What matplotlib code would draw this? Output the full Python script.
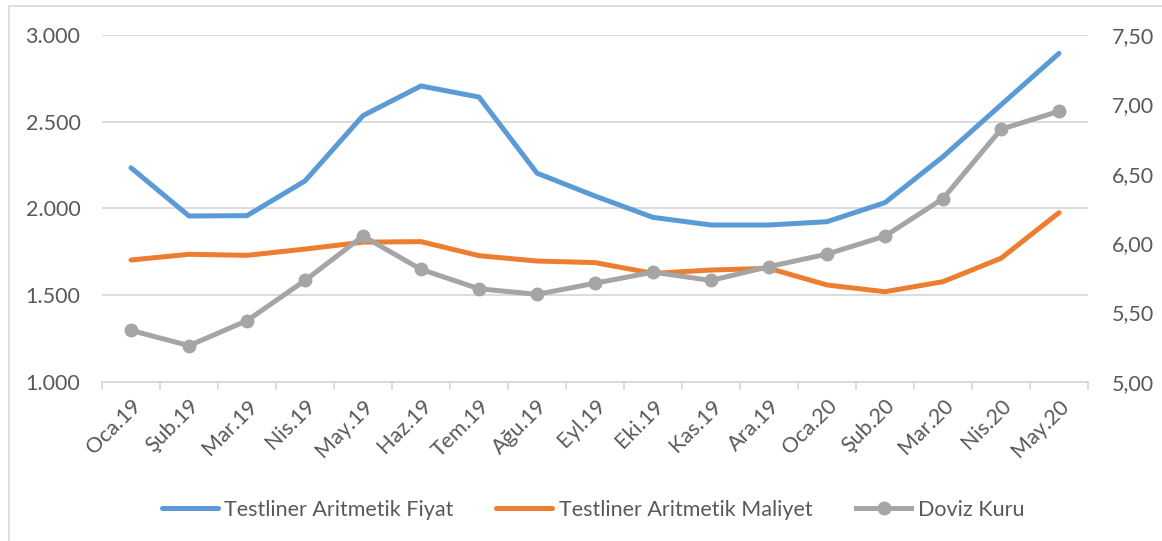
import matplotlib
matplotlib.use("Agg")
import matplotlib.pyplot as plt
from matplotlib.patches import Rectangle

plt.rcParams['font.family'] = ['Lato', 'DejaVu Sans']

months = ["Oca.19", "Şub.19", "Mar.19", "Nis.19", "May.19", "Haz.19", "Tem.19",
          "Ağu.19", "Eyl.19", "Eki.19", "Kas.19", "Ara.19", "Oca.20", "Şub.20",
          "Mar.20", "Nis.20", "May.20"]
fiyat = [2234, 1956, 1958, 2158, 2535, 2706, 2642, 2203, 2071, 1948, 1904,
         1904, 1923, 2033, 2298, 2597, 2894]
maliyet = [1702, 1735, 1729, 1765, 1805, 1808, 1727, 1696, 1687, 1625, 1644,
           1654, 1558, 1519, 1577, 1712, 1975]
doviz = [5.37, 5.26, 5.44, 5.73, 6.05, 5.81, 5.67, 5.63, 5.71, 5.79, 5.73,
         5.83, 5.92, 6.05, 6.32, 6.82, 6.95]

left_ticks = [1000, 1500, 2000, 2500, 3000]
left_labels = ["1.000", "1.500", "2.000", "2.500", "3.000"]
right_ticks = [5.0, 5.5, 6.0, 6.5, 7.0, 7.5]
right_labels = ["5,00", "5,50", "6,00", "6,50", "7,00", "7,50"]

BLUE = "#5B9BD5"
ORANGE = "#ED7D31"
GRAY = "#A5A5A5"
TXT = "#595959"
GRID = "#D9D9D9"
FS = 15.5

W, H = 1162, 541
fig = plt.figure(figsize=(W / 100, H / 100), dpi=100)
fig.patch.set_facecolor("white")

# chart frame (partially cropped)
fig.add_artist(Rectangle((9 / W, -0.05), 1.2, (1 - 6 / H) + 0.05,
                         transform=fig.transFigure, fill=False,
                         edgecolor="#D9D9D9", linewidth=1.2))

ax = fig.add_axes([102 / W, 1 - 381.7 / H, (1088 - 102) / W, (381.7 - 35) / H])
ax2 = ax.twinx()

x = list(range(len(months)))
l1, = ax.plot(x, fiyat, color=BLUE, lw=3.6, solid_capstyle="round",
              solid_joinstyle="round", label="Testliner Aritmetik Fiyat", zorder=3)
l2, = ax.plot(x, maliyet, color=ORANGE, lw=3.6, solid_capstyle="round",
              solid_joinstyle="round", label="Testliner Aritmetik Maliyet", zorder=3)
l3, = ax2.plot(x, doviz, color=GRAY, lw=3.6, marker="o", markersize=9,
               solid_joinstyle="round", label="Doviz Kuru", zorder=3)

ax.set_xlim(-0.5, len(months) - 0.5)
ax.set_ylim(1000, 3000)
ax2.set_ylim(5.0, 7.5)

ax.set_yticks(left_ticks)
ax.set_yticklabels(left_labels)
ax2.set_yticks(right_ticks)
ax2.set_yticklabels(right_labels)

ax.yaxis.grid(True, color=GRID, lw=1.3)
ax.set_axisbelow(True)

for a in (ax, ax2):
    for s in a.spines.values():
        s.set_visible(False)
ax.spines["bottom"].set_visible(True)
ax.spines["bottom"].set_color(GRID)
ax.spines["bottom"].set_linewidth(1.3)

ax.tick_params(axis="y", length=0, labelsize=FS, labelcolor=TXT, pad=15.5)
ax2.tick_params(axis="y", length=0, labelsize=FS, labelcolor=TXT, pad=17)

# category ticks at boundaries
ax.set_xticks([i - 0.5 for i in range(len(months) + 1)], minor=False)
ax.set_xticklabels([""] * (len(months) + 1))
ax.tick_params(axis="x", which="major", length=6, color=GRID, width=1.3)
ax.set_xticks(x, minor=True)
ax.set_xticklabels(months, minor=True, rotation=45, ha="right",
                   rotation_mode="anchor", fontsize=FS, color=TXT)
ax.tick_params(axis="x", which="minor", length=0, pad=10)

leg = fig.legend(handles=[l1, l2, l3], loc="center", ncol=3,
                 bbox_to_anchor=(593 / W, 1 - 510 / H), frameon=False,
                 fontsize=FS, handlelength=2.6, handletextpad=0.3,
                 columnspacing=2.0, labelcolor=TXT)

fig.savefig("out.png", dpi=100)
